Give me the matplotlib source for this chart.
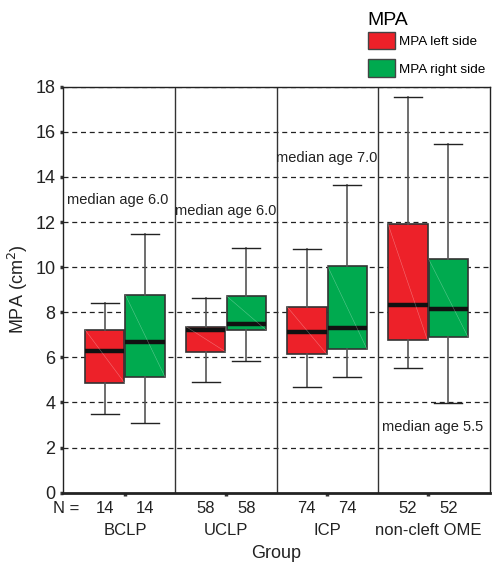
import matplotlib.pyplot as plt
from matplotlib.patches import Patch

plt.rcParams['font.family'] = ['Liberation Sans', 'DejaVu Sans']

grupos = ['BCLP', 'UCLP', 'ICP', 'non-cleft OME']
n_izq = [14, 58, 74, 52]
n_der = [14, 58, 74, 52]

# whisker low, Q1, median, Q3, whisker high
izq_low = [3.47, 4.90, 4.70, 5.51]
izq_q1 = [4.87, 6.25, 6.15, 6.75]
izq_med = [6.28, 7.20, 7.14, 8.33]
izq_q3 = [7.22, 7.36, 8.24, 11.90]
izq_high = [8.40, 8.62, 10.82, 17.53]

der_low = [3.10, 5.82, 5.14, 3.96]
der_q1 = [5.14, 7.22, 6.37, 6.91]
der_med = [6.67, 7.46, 7.31, 8.13]
der_q3 = [8.76, 8.72, 10.05, 10.37]
der_high = [11.48, 10.86, 13.64, 15.44]

edades = ['median age 6.0', 'median age 6.0', 'median age 7.0', 'median age 5.5']
edad_x = [0.426, 1.495, 2.495, 3.545]
edad_y = [12.97, 12.48, 14.85, 2.90]

rojo = '#ED2129'
verde = '#00AA4F'

fig = plt.figure(figsize=(4.92, 5.64), dpi=100)
ax = fig.add_axes([0.128, 0.1266, 0.868, 0.7196])

def stats(lo, q1, med, q3, hi):
    return [dict(whislo=lo[i], q1=q1[i], med=med[i], q3=q3[i], whishi=hi[i], fliers=[])
            for i in range(len(lo))]

pos = range(1, len(grupos) + 1)
for datos, off, col in [(stats(izq_low, izq_q1, izq_med, izq_q3, izq_high), -0.2, rojo),
                        (stats(der_low, der_q1, der_med, der_q3, der_high), 0.2, verde)]:
    ax.bxp(datos, positions=[p + off for p in pos], widths=0.39, capwidths=0.28,
           patch_artist=True, showfliers=False,
           boxprops=dict(facecolor=col, edgecolor='#333333', linewidth=1.2),
           medianprops=dict(color='#111111', linewidth=3.2),
           whiskerprops=dict(color='#555555', linewidth=1.2),
           capprops=dict(color='#222222', linewidth=1.0), zorder=3)
    # diagonal tenue dentro de las cajas
    for p, d in zip(pos, datos):
        x0 = p + off - 0.195
        x1 = p + off + 0.195
        ax.plot([x0, x1], [d['q3'], d['q1']], color='white', lw=0.4, alpha=0.35, zorder=4)

ax.set_xlim(0.386, 4.614)
ax.set_ylim(0, 18)
ax.set_yticks(range(0, 19, 2))
for y in range(2, 19, 2):
    ax.axhline(y, color='#222222', lw=0.9, ls=(0, (4, 3)), zorder=1)
for x in [1.5, 2.5, 3.5]:
    ax.axvline(x, color='#333333', lw=1.0, zorder=1)

ax.set_xticks(list(pos))
ax.set_xticklabels([])
ax.tick_params(axis='both', length=2, width=2.5, colors='#333333', labelcolor='#222222',
               labelsize=13)
for s in ax.spines.values():
    s.set_color('#222222')
    s.set_linewidth(1.0)
ax.spines['bottom'].set_linewidth(2.0)

ax.set_ylabel('MPA (cm$^2$)', fontsize=13, color='#222222', labelpad=4)

tr = ax.get_xaxis_transform()
ax.text(0.42, -0.038, 'N =', transform=tr, ha='center', va='center', fontsize=12, color='#222222')
for i, p in enumerate(pos):
    ax.text(p - 0.2, -0.038, str(n_izq[i]), transform=tr, ha='center', va='center',
            fontsize=12, color='#222222')
    ax.text(p + 0.2, -0.038, str(n_der[i]), transform=tr, ha='center', va='center',
            fontsize=12, color='#222222')
    ax.text(p, -0.093, grupos[i], transform=tr, ha='center', va='center',
            fontsize=12, color='#222222')
    ax.text(edad_x[i], edad_y[i], edades[i], ha='left', va='center', fontsize=10.5,
            color='#222222', zorder=5)
ax.text(2.5, -0.15, 'Group', transform=tr, ha='center', va='center', fontsize=13,
        color='#222222')

handles = [Patch(facecolor=rojo, edgecolor='#444444', label='MPA left side'),
           Patch(facecolor=verde, edgecolor='#444444', label='MPA right side')]
leg = fig.legend(handles=handles, title='MPA', loc='upper left',
                 bbox_to_anchor=(0.728, 0.995), frameon=False, fontsize=9.7,
                 title_fontsize=14, handlelength=2.0, handleheight=1.6,
                 labelspacing=0.75, handletextpad=0.3, borderpad=0.2)
leg._legend_box.align = 'left'
leg._legend_box.sep = 2

fig.savefig('out.png', dpi=100)
